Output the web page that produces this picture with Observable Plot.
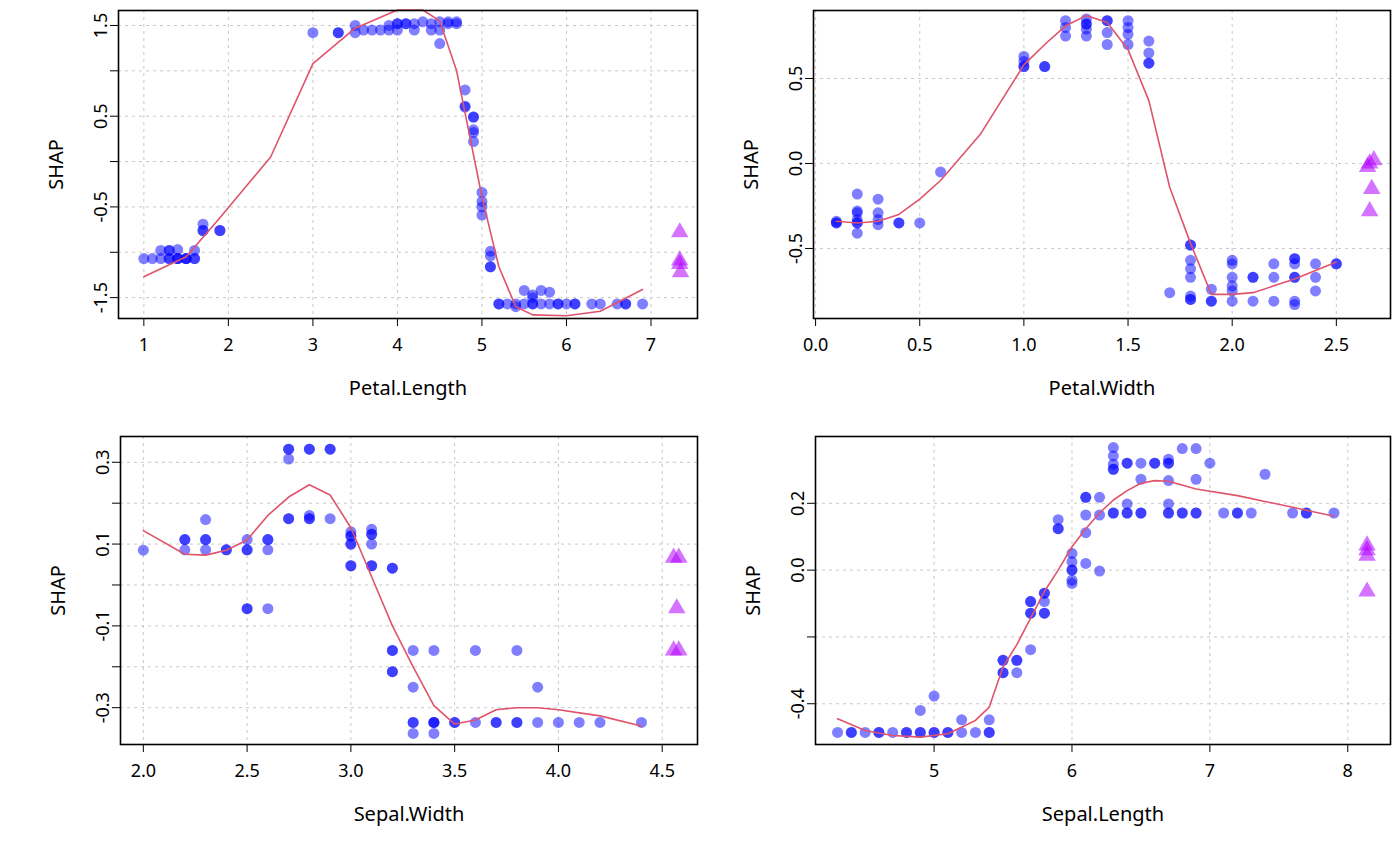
<!DOCTYPE html>
<html><head><meta charset="utf-8">
<script src="https://cdn.jsdelivr.net/npm/d3@7"></script>
<script src="https://cdn.jsdelivr.net/npm/@observablehq/plot@0.6"></script>
<style>
body{margin:0;background:#fff;width:1400px;height:866px;position:relative;overflow:hidden;font-family:"Noto Sans",sans-serif}
.p{position:absolute}
g[aria-label$="axis label"]{font-size:20px}
</style></head><body>
<div id="p1" class="p" style="left:0;top:0"></div>
<div id="p2" class="p" style="left:700px;top:0"></div>
<div id="p3" class="p" style="left:0;top:426px"></div>
<div id="p4" class="p" style="left:700px;top:426px"></div>
<script>
// ---- Panel 1: Petal.Length ----
const petalLengthPts = [
[1.0,-1.07],[1.1,-1.07],[1.2,-1.07],[1.3,-1.07],[1.3,-1.07],[1.4,-1.07],[1.4,-1.07],[1.4,-1.07],[1.5,-1.07],[1.5,-1.07],[1.5,-1.07],[1.6,-1.07],[1.6,-1.07],
[1.2,-0.98],[1.3,-0.98],[1.3,-0.98],[1.4,-0.97],[1.6,-0.98],
[1.7,-0.69],[1.7,-0.76],[1.7,-0.76],[1.9,-0.76],[1.9,-0.76],
[3.0,1.42],[3.3,1.42],[3.3,1.42],[3.5,1.5],[3.5,1.42],[3.6,1.45],[3.7,1.45],[3.8,1.45],[3.9,1.45],[3.9,1.5],
[4.0,1.52],[4.0,1.52],[4.1,1.52],[4.1,1.52],[4.2,1.52],[4.3,1.54],[4.4,1.52],[4.5,1.54],[4.6,1.52],[4.6,1.54],[4.7,1.54],[4.7,1.52],
[4.0,1.45],[4.2,1.45],[4.4,1.45],[4.5,1.45],[4.5,1.30],
[4.8,0.79],[4.8,0.61],[4.8,0.6],[4.9,0.49],[4.9,0.49],[4.9,0.35],[4.9,0.32],[4.9,0.22],
[5.0,-0.34],[5.0,-0.44],[5.0,-0.5],[5.0,-0.59],[5.1,-0.99],[5.1,-1.04],[5.1,-1.16],[5.1,-1.16],
[5.2,-1.57],[5.2,-1.57],[5.3,-1.57],[5.4,-1.57],[5.4,-1.6],[5.5,-1.57],[5.6,-1.57],[5.6,-1.57],[5.7,-1.57],[5.8,-1.57],[5.9,-1.57],[5.9,-1.57],[6.0,-1.57],[6.1,-1.57],[6.1,-1.57],[6.3,-1.57],[6.4,-1.57],[6.6,-1.57],[6.7,-1.57],[6.7,-1.57],[6.9,-1.57],
[5.5,-1.42],[5.7,-1.42],[5.8,-1.44],[5.6,-1.47],[5.6,-1.5]
];
const petalLengthNA = [[7.34,-0.78],[7.34,-1.09],[7.34,-1.13],[7.35,-1.22]];
const petalLengthLine = [[1.0,-1.27],[1.5,-1.05],[1.9,-0.62],[2.5,0.05],[3.0,1.08],[3.5,1.47],[4.0,1.67],[4.3,1.67],[4.5,1.55],[4.7,1.0],[5.0,-0.39],[5.2,-1.16],[5.4,-1.6],[5.6,-1.69],[6.0,-1.7],[6.4,-1.65],[6.9,-1.41]];

// ---- Panel 2: Petal.Width ----
const petalWidthPts = [
[0.1,-0.34],[0.1,-0.35],[0.1,-0.35],
[0.2,-0.18],[0.2,-0.28],[0.2,-0.29],[0.2,-0.33],[0.2,-0.35],[0.2,-0.35],[0.2,-0.41],
[0.3,-0.21],[0.3,-0.29],[0.3,-0.33],[0.3,-0.36],[0.4,-0.35],[0.4,-0.35],[0.5,-0.35],[0.6,-0.05],
[1.0,0.63],[1.0,0.6],[1.0,0.57],[1.0,0.57],[1.1,0.57],[1.1,0.57],
[1.2,0.84],[1.2,0.8],[1.2,0.75],[1.3,0.85],[1.3,0.82],[1.3,0.82],[1.3,0.79],[1.3,0.75],
[1.4,0.84],[1.4,0.84],[1.4,0.77],[1.4,0.7],[1.5,0.84],[1.5,0.8],[1.5,0.76],[1.5,0.7],
[1.6,0.72],[1.6,0.65],[1.6,0.59],[1.6,0.59],[1.7,-0.76],
[1.8,-0.48],[1.8,-0.48],[1.8,-0.57],[1.8,-0.62],[1.8,-0.67],[1.8,-0.78],[1.8,-0.8],[1.8,-0.8],
[1.9,-0.74],[1.9,-0.81],[1.9,-0.81],
[2.0,-0.57],[2.0,-0.59],[2.0,-0.67],[2.0,-0.72],[2.0,-0.75],[2.0,-0.81],
[2.1,-0.67],[2.1,-0.67],[2.1,-0.81],[2.2,-0.59],[2.2,-0.67],[2.2,-0.81],
[2.3,-0.56],[2.3,-0.56],[2.3,-0.59],[2.3,-0.67],[2.3,-0.67],[2.3,-0.81],[2.3,-0.83],
[2.4,-0.59],[2.4,-0.67],[2.4,-0.75],[2.5,-0.59],[2.5,-0.59]
];
const petalWidthNA = [[2.68,0.02],[2.66,0.0],[2.65,-0.02],[2.67,-0.15],[2.66,-0.28]];
const petalWidthLine = [[0.1,-0.34],[0.2,-0.35],[0.3,-0.34],[0.4,-0.3],[0.5,-0.21],[0.6,-0.1],[0.79,0.17],[1.0,0.58],[1.1,0.7],[1.2,0.81],[1.3,0.87],[1.4,0.83],[1.5,0.67],[1.6,0.37],[1.7,-0.14],[1.8,-0.47],[1.9,-0.77],[2.0,-0.77],[2.1,-0.76],[2.2,-0.72],[2.3,-0.68],[2.4,-0.63],[2.5,-0.58]];

// ---- Panel 3: Sepal.Width ----
const sepalWidthPts = [
[2.0,0.085],[2.2,0.111],[2.2,0.111],[2.2,0.086],[2.3,0.16],[2.3,0.111],[2.3,0.111],[2.3,0.086],[2.4,0.086],[2.4,0.086],
[2.5,0.111],[2.5,0.086],[2.5,0.086],[2.5,-0.058],[2.5,-0.058],[2.6,0.111],[2.6,0.111],[2.6,0.086],[2.6,-0.058],
[2.7,0.332],[2.7,0.332],[2.7,0.308],[2.7,0.162],[2.7,0.162],[2.8,0.332],[2.8,0.332],[2.8,0.17],[2.8,0.162],[2.8,0.162],[2.9,0.332],[2.9,0.332],[2.9,0.162],
[3.0,0.13],[3.0,0.12],[3.0,0.12],[3.0,0.1],[3.0,0.1],[3.0,0.047],[3.0,0.047],[3.1,0.136],[3.1,0.124],[3.1,0.124],[3.1,0.1],[3.1,0.047],[3.1,0.047],
[3.2,0.041],[3.2,0.041],[3.2,-0.16],[3.2,-0.16],[3.2,-0.212],[3.2,-0.212],
[3.3,-0.16],[3.3,-0.25],[3.3,-0.336],[3.3,-0.336],[3.3,-0.363],[3.4,-0.16],[3.4,-0.336],[3.4,-0.336],[3.4,-0.336],[3.4,-0.363],
[3.5,-0.336],[3.5,-0.336],[3.6,-0.16],[3.6,-0.336],[3.7,-0.336],[3.7,-0.336],[3.8,-0.16],[3.8,-0.336],[3.8,-0.336],
[3.9,-0.25],[3.9,-0.336],[4.0,-0.336],[4.1,-0.336],[4.2,-0.336],[4.4,-0.336]
];
const sepalWidthNA = [[4.555,0.067],[4.58,0.067],[4.57,-0.057],[4.555,-0.16],[4.58,-0.16]];
const sepalWidthLine = [[2.0,0.133],[2.2,0.075],[2.3,0.073],[2.4,0.085],[2.5,0.11],[2.6,0.17],[2.7,0.215],[2.8,0.245],[2.9,0.22],[3.0,0.14],[3.1,0.02],[3.2,-0.1],[3.3,-0.2],[3.4,-0.295],[3.5,-0.34],[3.6,-0.33],[3.7,-0.305],[3.8,-0.3],[3.9,-0.3],[4.0,-0.305],[4.2,-0.32],[4.4,-0.345]];

// ---- Panel 4: Sepal.Length ----
const sepalLengthPts = [
[4.3,-0.486],[4.4,-0.486],[4.4,-0.486],[4.5,-0.486],[4.6,-0.486],[4.6,-0.486],[4.7,-0.486],[4.8,-0.486],[4.8,-0.486],[4.9,-0.486],[4.9,-0.486],[5.0,-0.486],[5.0,-0.486],[5.1,-0.486],[5.1,-0.486],[5.2,-0.486],[5.3,-0.486],[5.4,-0.486],[5.4,-0.486],
[4.9,-0.42],[5.0,-0.377],[5.2,-0.448],[5.4,-0.448],
[5.5,-0.27],[5.5,-0.27],[5.5,-0.307],[5.5,-0.307],[5.6,-0.27],[5.6,-0.27],[5.6,-0.307],[5.7,-0.238],
[5.7,-0.094],[5.7,-0.094],[5.7,-0.129],[5.7,-0.129],[5.8,-0.069],[5.8,-0.069],[5.8,-0.094],[5.8,-0.129],[5.8,-0.129],
[5.9,0.151],[5.9,0.124],[5.9,0.124],[6.0,0.05],[6.0,0.025],[6.0,0.0],[6.0,0.0],[6.0,-0.03],[6.0,-0.04],
[6.1,0.218],[6.1,0.218],[6.1,0.165],[6.1,0.112],[6.1,0.02],[6.2,0.218],[6.2,0.165],[6.2,-0.003],
[6.3,0.367],[6.3,0.342],[6.3,0.317],[6.3,0.302],[6.3,0.302],[6.3,0.171],[6.3,0.171],
[6.4,0.32],[6.4,0.32],[6.4,0.198],[6.4,0.171],[6.4,0.171],[6.5,0.32],[6.5,0.272],[6.5,0.171],[6.5,0.171],
[6.6,0.32],[6.6,0.32],[6.7,0.332],[6.7,0.32],[6.7,0.32],[6.7,0.268],[6.7,0.198],[6.7,0.171],[6.7,0.171],
[6.8,0.364],[6.8,0.171],[6.8,0.171],[6.9,0.364],[6.9,0.272],[6.9,0.171],[6.9,0.171],
[7.0,0.32],[7.1,0.171],[7.2,0.171],[7.2,0.171],[7.3,0.171],[7.4,0.287],[7.6,0.171],[7.7,0.171],[7.7,0.171],[7.9,0.171]
];
const sepalLengthNA = [[8.14,0.074],[8.14,0.06],[8.14,0.043],[8.14,-0.064]];
const sepalLengthLine = [[4.3,-0.445],[4.5,-0.48],[4.7,-0.495],[4.9,-0.5],[5.1,-0.49],[5.3,-0.45],[5.4,-0.41],[5.5,-0.29],[5.6,-0.223],[5.7,-0.144],[5.8,-0.064],[5.9,0.0],[6.0,0.07],[6.1,0.124],[6.2,0.171],[6.3,0.21],[6.4,0.238],[6.5,0.26],[6.6,0.268],[6.7,0.266],[6.9,0.243],[7.2,0.223],[7.6,0.188],[7.9,0.161]];

const FONT = "Noto Sans";
function panel(el, o){
  const fig = Plot.plot({
    width: 700, height: o.height,
    marginLeft: o.ml, marginRight: o.mr, marginTop: 10, marginBottom: o.height - 10 - 308,
    style: {fontFamily: FONT, fontSize: "18px", background: "white", color: "black"},
    x: {domain: o.xd}, y: {domain: o.yd},
    marks: [
      Plot.gridX(o.xt, {stroke: "#c8c8c8", strokeOpacity: 1, strokeDasharray: "3,4"}),
      Plot.gridY(o.yt, {stroke: "#c8c8c8", strokeOpacity: 1, strokeDasharray: "3,4"}),
      Plot.dot(o.pts, {x: d => d[0], y: d => d[1], r: 5.5, fill: "#0000ff", fillOpacity: 0.5, stroke: "none"}),
      Plot.dot(o.na, {x: d => d[0], y: d => d[1], r: 6.5, symbol: "triangle", fill: "#b000ff", fillOpacity: 0.55, stroke: "none"}),
      Plot.line(o.line, {x: d => d[0], y: d => d[1], stroke: "#DF536B", strokeWidth: 1.6}),
      Plot.frame({stroke: "black", strokeWidth: 1.6}),
      Plot.axisX(o.xt, {tickSize: 8, tickPadding: 12, fontSize: 18, tickFormat: o.xf, label: o.xl, labelAnchor: "center", labelArrow: "none", labelOffset: 76}),
      Plot.axisY(o.yt, {tickSize: 8, tickPadding: 4, tickRotate: -90, fontSize: 18, tickFormat: o.yf, label: "SHAP", labelAnchor: "center", labelArrow: "none", labelOffset: 70})
    ]
  });
  document.getElementById(el).appendChild(fig);
}
const fix1 = d => d.toFixed(1);
panel("p1", {height: 420, ml: 118, mr: 3, xd: [0.70, 7.55], yd: [-1.73, 1.665],
  xt: [1,2,3,4,5,6,7], xf: d => String(d), xl: "Petal.Length",
  yt: [-1.5,-1,-0.5,0,0.5,1,1.5], yf: d => [1.5,0.5,-0.5,-1.5].includes(d) ? d.toFixed(1) : "",
  pts: petalLengthPts, na: petalLengthNA, line: petalLengthLine});
panel("p2", {height: 420, ml: 113, mr: 10, xd: [-0.01, 2.76], yd: [-0.912, 0.9],
  xt: [0,0.5,1,1.5,2,2.5], xf: fix1, xl: "Petal.Width",
  yt: [-0.5,0,0.5], yf: fix1,
  pts: petalWidthPts, na: petalWidthNA, line: petalWidthLine});
panel("p3", {height: 420, ml: 120, mr: 3, xd: [1.89, 4.67], yd: [-0.39, 0.363],
  xt: [2,2.5,3,3.5,4,4.5], xf: fix1, xl: "Sepal.Width",
  yt: [-0.3,-0.2,-0.1,0,0.1,0.2,0.3], yf: d => [0.3,0.1,-0.1,-0.3].some(v => Math.abs(v-d)<1e-9) ? d.toFixed(1) : "",
  pts: sepalWidthPts, na: sepalWidthNA, line: sepalWidthLine});
panel("p4", {height: 420, ml: 115, mr: 10, xd: [4.14, 8.31], yd: [-0.522, 0.4],
  xt: [5,6,7,8], xf: d => String(d), xl: "Sepal.Length",
  yt: [-0.4,-0.2,0,0.2], yf: d => [0.2,0,-0.4].some(v => Math.abs(v-d)<1e-9) ? d.toFixed(1) : "",
  pts: sepalLengthPts, na: sepalLengthNA, line: sepalLengthLine});
</script>
</body></html>
